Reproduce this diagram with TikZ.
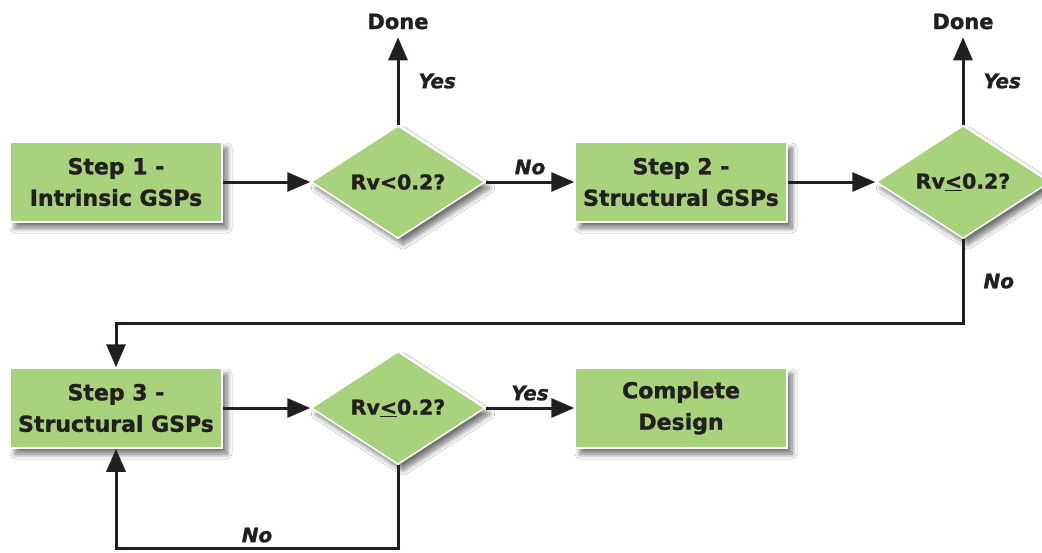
\documentclass[tikz,border=0pt]{standalone}
\usepackage{fontspec}
\setmainfont{DejaVu Sans}[BoldFeatures={FakeBold=1.3},BoldItalicFeatures={FakeBold=1.3}]
\usetikzlibrary{shapes.geometric,arrows.meta,shadows.blur}
\definecolor{boxgreen}{RGB}{168,210,124}
\definecolor{ink}{RGB}{35,31,32}
\begin{document}
\begin{tikzpicture}[x=1pt,y=-1pt,
  softshade/.style={blur shadow={shadow xshift=5pt,shadow yshift=-6pt,shadow blur steps=10,shadow blur radius=5pt,shadow opacity=55}},
  stepbox/.style={rectangle, fill=boxgreen, draw=white, line width=1.5pt, minimum width=212pt, minimum height=80pt, inner sep=0pt, align=center, font=\fontsize{22}{31.5}\selectfont\bfseries, text=ink, softshade},
  decide/.style={diamond, fill=boxgreen, draw=white, line width=1.5pt, minimum width=174pt, minimum height=113pt, inner sep=0pt, font=\fontsize{20.5}{24}\selectfont\bfseries, text=ink, softshade},
  endtext/.style={font=\fontsize{21}{24}\selectfont\bfseries, text=ink, inner sep=0pt, outer ysep=8pt},
  lbl/.style={font=\fontsize{20}{22}\selectfont\bfseries\itshape, text=ink, inner sep=1pt},
  arr/.style={draw=ink, line width=3pt, -{Triangle[length=23pt,width=19pt]}},
  line/.style={draw=ink, line width=3pt}
]
\useasboundingbox (0,0) rectangle (1042,552);
\fill[white] (0,0) rectangle (1042,552);
\clip (0,0) rectangle (1042,552);

% row 1
\node[stepbox] (b1) at (116,182) {Step 1 -\\Intrinsic GSPs};
\node[decide] (d1) at (398,182) {Rv<0.2?};
\node[stepbox] (b2) at (681,182) {Step 2 -\\Structural GSPs};
\node[decide] (d2) at (963,182) {Rv\underline{<}0.2?};
\node[endtext] (done1) at (398,21.5) {Done};
\node[endtext] (done2) at (963,21.5) {Done};

% row 2
\node[stepbox] (b3) at (116,408) {Step 3 -\\Structural GSPs};
\node[decide] (d3) at (398,408) {Rv\underline{<}0.2?};
\node[stepbox] (b4) at (681,408) {Complete\\Design};

\coordinate (c1) at (963,323);
\coordinate (c2) at (398,548);

% connectors
\draw[arr] (b1) -- (d1);
\draw[arr] (d1) -- node[lbl, above=5pt] {No} (b2);
\draw[arr] (b2) -- (d2);
\draw[arr] (d1) -- node[lbl, right=18pt] {Yes} (done1);
\draw[arr] (d2) -- node[lbl, right=18pt] {Yes} (done2);
\draw[arr] (d2.south) -- node[lbl, right=18pt] {No} (c1) -| (b3.north);
\draw[arr] (b3) -- (d3);
\draw[arr] (d3) -- node[lbl, above=5pt] {Yes} (b4);
\draw[arr] (d3.south) -- (c2) -- node[lbl, above=3pt] {No} (c2 -| b3) -- (b3.south);
\end{tikzpicture}
\end{document}
